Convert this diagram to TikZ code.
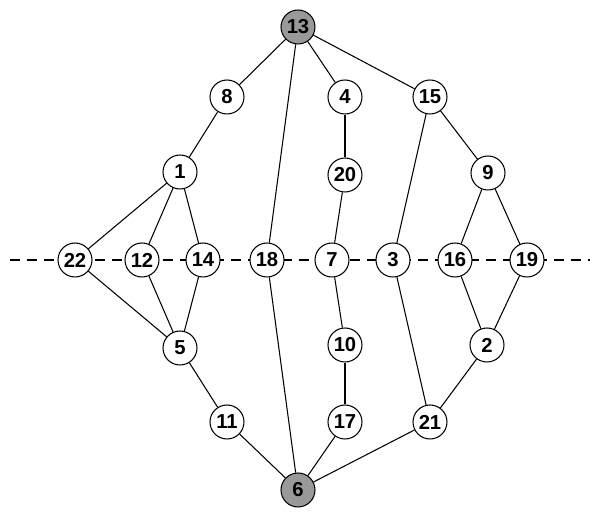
\documentclass[tikz,border=0pt]{standalone}
\usepackage{fontspec}
\setmainfont{Liberation Sans}
\usepackage{tikz}

\tikzset{
    vert/.style={circle, draw, fill=white, line width=0.6pt, minimum size=0.68cm, inner sep=0pt, font=\fontsize{11.5}{13}\selectfont\bfseries},
    term/.style={vert, fill=black!40},
    cut/.style={dashed, dash pattern=on 0.2cm off 0.14cm, line width=1.3pt}
}

\begin{document}
\begin{tikzpicture}[x=0.02cm, y=-0.02cm, line width=0.6pt]

    \useasboundingbox (0,0) rectangle (600,516);

    % cut line
    \coordinate (cl) at (10,260);
    \coordinate (cr) at (590,260);
    \draw[cut] (cl) -- (cr);

    \node[term] (n13) at (298, 27) {13};
    \node[vert] (n8)  at (227, 97) {8};
    \node[vert] (n4)  at (345, 97) {4};
    \node[vert] (n15) at (430, 97) {15};
    \node[vert] (n1)  at (180,172) {1};
    \node[vert] (n20) at (345,175) {20};
    \node[vert] (n9)  at (488,173) {9};

    % nodes on the cut
    \node[vert] (n22) at ( 75,260) {22};
    \node[vert] (n12) at (142,260) {12};
    \node[vert] (n14) at (203,260) {14};
    \node[vert] (n18) at (267,260) {18};
    \node[vert] (n7)  at (332,260) {7};
    \node[vert] (n3)  at (393,260) {3};
    \node[vert] (n16) at (455,260) {16};
    \node[vert] (n19) at (527,260) {19};

    \node[vert] (n5)  at (180,348) {5};
    \node[vert] (n10) at (345,345) {10};
    \node[vert] (n2)  at (487,345) {2};
    \node[vert] (n11) at (227,422) {11};
    \node[vert] (n17) at (345,422) {17};
    \node[vert] (n21) at (430,422) {21};
    \node[term] (n6)  at (298,490) {6};

    % edges
    \draw (n13) -- (n8);
    \draw (n13) -- (n18);
    \draw (n13) -- (n4);
    \draw (n13) -- (n15);
    \draw (n8) -- (n1);
    \draw (n4) -- (n20);
    \draw (n15) -- (n3);
    \draw (n15) -- (n9);
    \draw (n1) -- (n22);
    \draw (n1) -- (n12);
    \draw (n1) -- (n14);
    \draw (n20) -- (n7);
    \draw (n9) -- (n16);
    \draw (n9) -- (n19);
    \draw (n22) -- (n5);
    \draw (n12) -- (n5);
    \draw (n14) -- (n5);
    \draw (n18) -- (n6);
    \draw (n7) -- (n10);
    \draw (n3) -- (n21);
    \draw (n16) -- (n2);
    \draw (n19) -- (n2);
    \draw (n5) -- (n11);
    \draw (n10) -- (n17);
    \draw (n2) -- (n21);
    \draw (n11) -- (n6);
    \draw (n17) -- (n6);
    \draw (n21) -- (n6);

\end{tikzpicture}
\end{document}
